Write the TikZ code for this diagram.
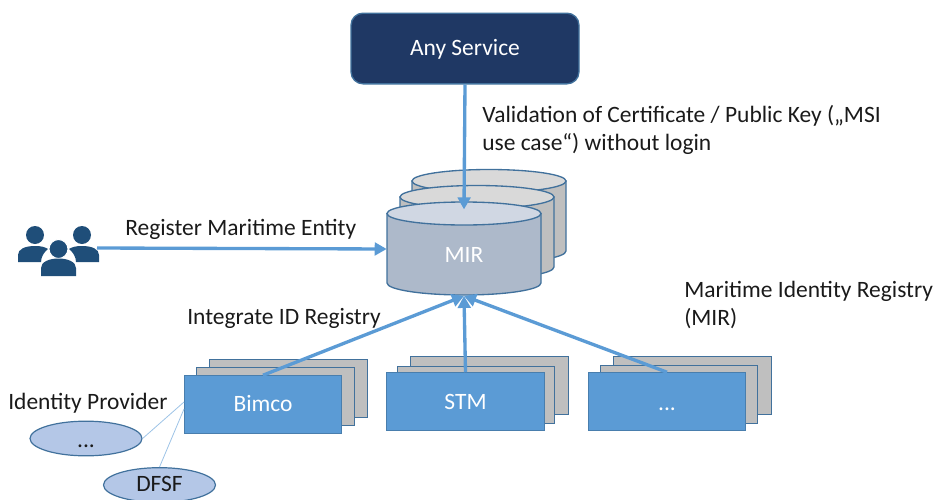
\documentclass[tikz,border=0pt]{standalone}
\usepackage{fontspec}
\setmainfont{Carlito}
\usetikzlibrary{arrows.meta,shapes.geometric}
\definecolor{linkblue}{HTML}{5B9BD5}
\definecolor{edgeblue}{HTML}{41719C}
\definecolor{navy}{HTML}{1F3864}
\definecolor{iconblue}{HTML}{1F4E79}
\definecolor{dbside}{HTML}{ADB9CA}
\definecolor{dbtop}{HTML}{D0D7E3}
\definecolor{graybody}{HTML}{BFBFBF}
\definecolor{graytop}{HTML}{D9D9D9}
\definecolor{ellfill}{HTML}{B4C7E7}
\definecolor{softline}{HTML}{9DC3E6}
\definecolor{txt}{HTML}{1A1A1A}
\newcommand{\bigfont}{\fontsize{17.6pt}{21pt}\selectfont}
\newcommand{\lowered}[2]{\raisebox{-#1}[0pt][0pt]{#2}}
\tikzset{
  x=0.75pt,y=-0.75pt,
  conn/.style={draw=linkblue,line width=2.5pt,-{Triangle[length=9pt,width=9.5pt]}},
  softconn/.style={draw=softline,line width=0.6pt},
  lbl/.style={font=\bigfont,text=txt,anchor=west,inner sep=0pt,align=left},
  stackbox/.style={draw=edgeblue,line width=0.9pt,fill=graybody,minimum width=118pt,minimum height=43pt,inner sep=0pt},
  frontbox/.style={draw=edgeblue!70!linkblue,line width=0.9pt,fill=linkblue,minimum width=118pt,minimum height=43pt,inner sep=0pt,text=white,font=\bigfont},
  idp/.style={draw=edgeblue,line width=0.9pt,fill=ellfill,minimum width=84pt,minimum height=26pt,inner sep=0pt,shape=ellipse,text=txt,font=\bigfont},
  svc/.style={draw=edgeblue,line width=1pt,fill=navy,rounded corners=9pt,minimum width=171pt,minimum height=53pt,inner sep=0pt,text=white,font=\bigfont},
  dbname/.style={minimum width=115.5pt,minimum height=70pt,inner sep=0pt},
}
% #1 left x, #2 top-ellipse centre y, #3 bottom centre y, #4 side fill, #5 top fill
\newcommand{\dbdrum}[5]{%
  \path[draw=edgeblue,line width=1pt,fill=#4]
    (#1,#2) -- (#1,#3) arc[start angle=180,end angle=0,x radius=77,y radius=12]
    -- (#1+154,#2) -- cycle;
  \path[draw=edgeblue,line width=1pt,fill=#5] (#1+77,#2) ellipse[x radius=77,y radius=11.5];
}
\begin{document}
\begin{tikzpicture}
\useasboundingbox (0,0) rectangle (933,500);
% service
\node[svc] (service) at (465,48.5) {\lowered{5.6pt}{Any Service}};
% database stack
\dbdrum{412}{181}{251}{graybody}{graytop}
\dbdrum{400}{197}{267}{graybody}{graytop}
\dbdrum{387}{213.5}{283}{dbside}{dbtop}
\node[dbname] (mir) at (464,249) {};
\node[text=white,font=\bigfont] (mirlabel) at (464,255) {MIR};
% stacked boxes
\node[stackbox] (b3) at (288.5,388.5) {};
\node[stackbox] (b2) at (275.5,396.5) {};
\node[frontbox] (bimco) at (263,404.5) {\lowered{5pt}{Bimco}};
\node[stackbox] (s3) at (489.5,385.5) {};
\node[stackbox] (s2) at (476,395) {};
\node[frontbox] (stm) at (465.5,401.5) {\lowered{6.2pt}{STM}};
\node[stackbox] (d3) at (692.5,385.5) {};
\node[stackbox] (d2) at (679,394.5) {};
\node[frontbox] (dots) at (667,401.5) {\lowered{6.4pt}{...}};
% identity providers
\node[idp] (idpdots) at (86,438.5) {\lowered{6.4pt}{...}};
\node[idp] (dfsf) at (159.5,485) {\lowered{5pt}{DFSF}};
\coordinate (bimcoa) at (184,402);
\coordinate (bimcob) at (184,409);
\draw[softconn] (bimcoa) -- (idpdots.east);
\draw[softconn] (bimcob) -- (dfsf.north);
% people icon
\begin{scope}[fill=iconblue]
\fill (35,235) circle[radius=9];
\fill (82,235) circle[radius=9];
\fill (18,262) -- (18,255) .. controls (18,249) and (25,246) .. (35,246) .. controls (41,246) and (45,247) .. (48,249) .. controls (44,252) and (41,257) .. (41,262) -- cycle;
\fill (99,262) -- (99,255) .. controls (99,249) and (92,246) .. (82,246) .. controls (76,246) and (72,247) .. (69,249) .. controls (73,252) and (76,257) .. (76,262) -- cycle;
\draw[draw=white,line width=0.8pt,fill=iconblue] (58.5,249) circle[radius=9.5];
\fill (41,276) -- (41,268) .. controls (41,262) and (49,258.5) .. (58.5,258.5) .. controls (68,258.5) and (76,262) .. (76,268) -- (76,276) -- cycle;
\end{scope}
\coordinate (people) at (97,248);
% connectors
\draw[conn] (service.south) -- ([yshift=-5.5pt]mir.north);
\draw[conn] (people) -- (mir.west);
\draw[conn] (bimco.north) -- (mir.south);
\draw[conn] (stm.north) -- (mir.south);
\draw[conn] (dots.north) -- (mir.south);
% labels
\node[lbl] (t1) at (482,130) {Validation of Certificate / Public Key („MSI\\use case“) without login};
\node[lbl] (t2) at (125,229) {Register Maritime Entity};
\node[lbl] (t3) at (187,318) {Integrate ID Registry};
\node[lbl] (t4) at (684,305) {Maritime Identity Registry\\(MIR)};
\node[lbl] (t5) at (8,403) {Identity Provider};
\end{tikzpicture}
\end{document}
